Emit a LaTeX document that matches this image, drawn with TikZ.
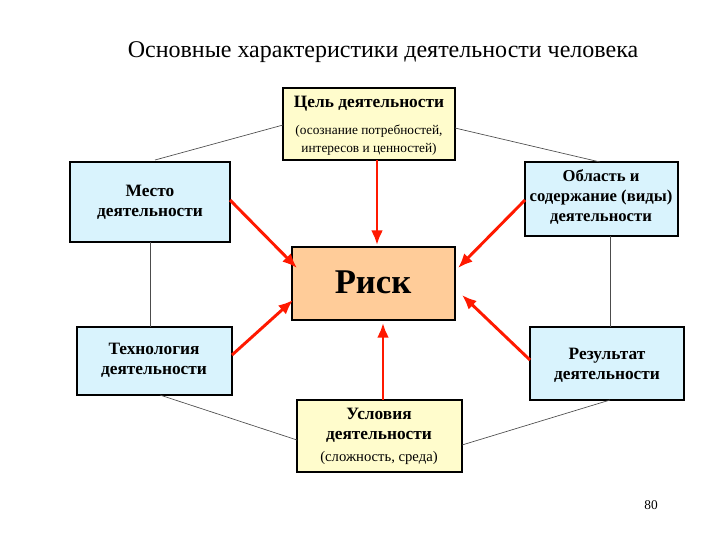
\documentclass[tikz,border=0pt]{standalone}
\usepackage{fontspec}
\setmainfont{Liberation Serif}
\begin{document}
\begin{tikzpicture}[x=0.75pt,y=-0.75pt,
  box/.style={draw=black,line width=0.8pt},
  yel/.style={box,fill=yellow!20},
  blu/.style={box,fill=cyan!15},
  hex/.style={draw=black!70,line width=0.5pt},
  arr/.style={draw=red!80!orange,line width=2.2pt,-{Latex[length=11pt,width=9pt]}},
  lbl/.style={font=\bfseries\fontsize{13}{15}\selectfont,align=center}]
\usetikzlibrary{arrows.meta}
\useasboundingbox (0,0) rectangle (720,540);
\node[font=\fontsize{18}{20}\selectfont] (title) at (383,52) {Основные характеристики деятельности человека};
\path[yel] (283,88) rectangle (455,160);
\node[lbl] (top) at (369,104) {Цель деятельности};
\node[font=\fontsize{10}{13}\selectfont,align=center] (topsub) at (369,140) {(осознание потребностей,\\интересов и ценностей)};
\coordinate (topA) at (283,125); \coordinate (topB) at (455,128);
\coordinate (topC) at (377,160);
\path[blu] (70,162) rectangle (230,242);
\node[lbl] (left) at (150,202) {Место\\деятельности};
\path[blu] (525,162) rectangle (678,236);
\node[lbl,font=\bfseries\fontsize{12.5}{15}\selectfont] (right) at (601,197) {Область и\\содержание (виды)\\деятельности};
\path[box,fill=orange!40] (292,247) rectangle (455,320);
\node[font=\bfseries\fontsize{26}{28}\selectfont] (risk) at (373,282) {Риск};
\path[blu] (77,327) rectangle (232,395);
\node[lbl] (tech) at (154,360) {Технология\\деятельности};
\path[blu] (530,327) rectangle (684,400);
\node[lbl] (res) at (607,365) {Результат\\деятельности};
\path[yel] (297,400) rectangle (462,472);
\node[lbl] (cond) at (379,425) {Условия\\деятельности};
\node[font=\fontsize{11}{13}\selectfont] (condsub) at (379,458) {(сложность, среда)};
\node[font=\fontsize{10}{12}\selectfont] (page) at (651,505) {80};
\draw[hex] (155,160) -- (topA);
\draw[hex] (topB) -- (600,162);
\draw[hex] (150,242) -- (150,327);
\draw[hex] (610,236) -- (610,327);
\draw[hex] (160,395) -- (297,440);
\draw[hex] (462,445) -- (610,400);
\draw[arr] (230,200) -- (297,268);
\draw[arr] (topC) -- (377,245);
\draw[arr] (525,200) -- (458,268);
\draw[arr] (232,355) -- (293,300);
\draw[arr] (530,360) -- (462,295);
\draw[arr] (383,400) -- (383,323);
\end{tikzpicture}
\end{document}
